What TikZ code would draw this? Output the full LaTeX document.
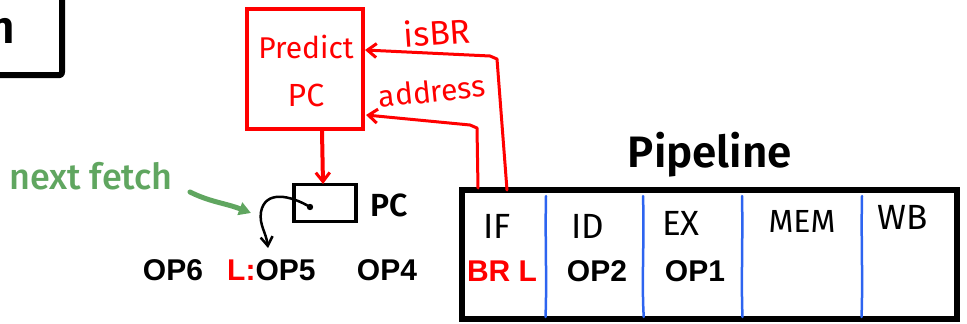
\documentclass[tikz,border=0pt]{standalone}
\usepackage{fontspec}
\setmainfont{Liberation Sans}
\newfontfamily\hand{Fira Sans}
\newfontfamily\handmid{Fira Sans}[UprightFont=* Medium]
\newfontfamily\handbold{Fira Sans}[UprightFont=* SemiBold]
\usetikzlibrary{arrows.meta}
\definecolor{penred}{RGB}{255,0,0}
\definecolor{pengreen}{RGB}{96,166,96}
\definecolor{penblue}{RGB}{45,100,240}
\tikzset{
  ink/.style={line width=#1, line cap=round, line join=round},
  vtip/.style={-{Straight Barb[length=9pt,width=14pt,line width=3pt]}},
  opl/.style={font=\bfseries\fontsize{30}{32}\selectfont, inner sep=0pt},
  stagel/.style={font=\hand\fontsize{35}{37}\selectfont, inner sep=0pt},
  redl/.style={font=\hand\fontsize{26}{28}\selectfont, text=penred, inner sep=0pt},
}
\begin{document}
\begin{tikzpicture}[x=1pt,y=-1pt]
\useasboundingbox (0,0) rectangle (967,324);
\clip (0,0) rectangle (967,324);

% title box cut by the edge
\draw[ink=6pt] (-5,75) -- (60,75) to[out=0,in=-90] (62,72) -- (62,-5);
\node[font=\handbold\fontsize{46}{48}\selectfont, inner sep=0pt] (title) at (2,31) {n};

% branch predictor
\node[draw=penred, line width=4.5pt, minimum width=116pt, minimum height=120pt,
      inner sep=0pt] (pred) at (305,69) {};
\node[redl, font=\hand\fontsize{30}{32}\selectfont] (predt) at (306,47) {Predict};
\node[redl, font=\hand\fontsize{32}{34}\selectfont] (predpc) at (306,95) {PC};

% program counter
\node[draw, line width=3.5pt, minimum width=62pt, minimum height=37pt, inner sep=0pt]
      (pc) at (325,203) {};
\node[font=\handbold\fontsize{32}{34}\selectfont, inner sep=0pt] (pcl) at (389,205) {PC};
\coordinate (dot) at (310,207);
\fill (dot) circle (3.2pt);
\coordinate (fetch) at (268,248);
\draw[ink=2.5pt, -{Straight Barb[length=9pt,width=12pt,line width=2.5pt]}]
  (dot) .. controls (290,195) and (265,190) .. (261,212) .. controls (259,225) and (266,232) .. (fetch);

\coordinate (predout) at (322,131);
\draw[ink=4pt, penred, vtip] (predout) -- (323,184);

% instruction stream
\node[opl] (op6) at (173,270) {OP6};
\node[opl, anchor=west] (op5) at (227,270) {\textcolor{penred}{L:}OP5};
\node[opl] (op4) at (387,270) {OP4};

% next fetch note
\node[font=\handmid\fontsize{36}{38}\selectfont, text=pengreen, inner sep=0pt] (nf) at (91,176) {next fetch};
\coordinate (nfs) at (190,192);
\draw[ink=5pt, pengreen, -{Triangle[length=12pt,width=13pt]}]
  (nfs) .. controls (210,202) and (225,203) .. (251,213);

% pipeline
\node[draw, line width=6pt, minimum width=495pt, minimum height=129pt, inner sep=0pt]
      (pipe) at (709,254) {};
\node[font=\handbold\fontsize{44}{46}\selectfont, inner sep=0pt] (pipet) at (710,155) {Pipeline};
\foreach \x/\w in {546/-1, 643/1.5, 742/1, 862/-1}{
  \draw[ink=2.5pt, penblue] (\x,196) .. controls (\x+\w,240) and (\x-\w,280) .. (\x+0.5*\w,317);
}
\node[stagel] (if) at (497,226) {IF};
\node[stagel] (id) at (588,226) {ID};
\node[stagel] (ex) at (681,223) {EX};
\node[stagel, font=\hand\fontsize{32}{34}\selectfont] (mem) at (802,221) {MEM};
\node[stagel] (wb) at (903,217) {WB};
\node[opl, text=penred] (brl) at (502,271) {BR L};
\node[opl] (op2) at (597,271) {OP2};
\node[opl] (op1) at (695,271) {OP1};

% signals from IF back to the predictor
\coordinate (ifa) at (478,188);
\coordinate (ifb) at (507,190);
\coordinate (predA) at (366,115);
\coordinate (predB) at (365,50);
\draw[ink=3pt, penred, vtip] (ifa) -- (477,128) -- (470,125) -- (predA);
\draw[ink=3pt, penred, vtip] (ifb) -- (497,59) -- (490,56) -- (predB);
\node[redl, font=\hand\fontsize{34}{36}\selectfont, rotate=4] (isbr) at (437,32) {isBR};
\node[redl, font=\hand\fontsize{30}{32}\selectfont, rotate=6] (addr) at (432,91) {address};
\end{tikzpicture}
\end{document}
